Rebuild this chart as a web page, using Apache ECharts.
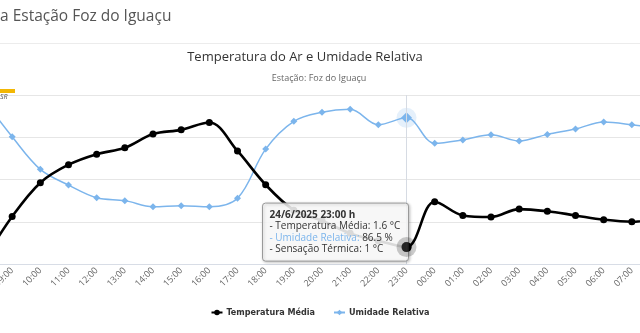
<!DOCTYPE html>
<html>
<head>
<meta charset="utf-8">
<script src="https://cdn.jsdelivr.net/npm/echarts@6/dist/echarts.min.js"></script>
<style>
html,body{margin:0;padding:0;background:#fff;}
#c{width:640px;height:333px;}
</style>
</head>
<body>
<div id="c"></div>
<script>
// Hours (category axis); first and last points lie just outside the visible crop
const hours = ['08:00','09:00','10:00','11:00','12:00','13:00','14:00','15:00','16:00','17:00','18:00','19:00','20:00','21:00','22:00','23:00','00:00','01:00','02:00','03:00','04:00','05:00','06:00','07:00','08:00'];
// Temperatura Média (°C)
const tempMedia = [0.4, 4.5, 7.7, 9.4, 10.4, 11.0, 12.3, 12.7, 13.4, 10.7, 7.5, 5.1, 4.1, 2.9, 2.2, 1.6, 5.9, 4.6, 4.45, 5.2, 5.0, 4.6, 4.2, 4.0, 4.4];
// Umidade Relativa (%)
const umidade = [97, 75.3, 56.0, 46.7, 39.2, 37.5, 33.9, 34.5, 33.9, 38.9, 68.0, 84.4, 89.8, 91.5, 82.4, 86.5, 71.4, 73.4, 76.5, 72.8, 76.7, 79.9, 84.0, 82.4, 80];
// Tooltip content for the hovered hour
const tipIndex = 15;
const tipDate = '24/6/2025';
const sensacaoTermica = [1];

const FONT = '"Open Sans", "DejaVu Sans", sans-serif';
const chart = echarts.init(document.getElementById('c'), null, {renderer: 'canvas'});

const tempPoints = tempMedia.map((v, i) => i === tipIndex ? {value: v, symbolSize: 10} : v);
const umidPoints = umidade.map((v, i) => i === tipIndex ? {value: v, symbolSize: 11} : v);

const option = {
  animation: false,
  backgroundColor: '#fff',
  grid: {left: -16, right: -20, top: 95, bottom: 69, containLabel: false, outerBoundsMode: 'none'},
  legend: {
    bottom: 11, left: 'center',
    itemWidth: 11, itemHeight: 7, itemGap: 18,
    textStyle: {fontFamily: '"DejaVu Sans Condensed", "DejaVu Sans", sans-serif', fontSize: 9, fontWeight: 'bold', color: '#333', padding: [0, 0, 0, -1]},
    data: ['Temperatura Média', 'Umidade Relativa']
  },
  xAxis: {
    type: 'category', data: hours, boundaryGap: false,
    axisLine: {lineStyle: {color: '#d8dde6'}},
    axisTick: {show: false},
    axisLabel: {rotate: 45, fontSize: 9, color: '#666', fontFamily: FONT, margin: 5, interval: 0},
    splitLine: {show: false}
  },
  yAxis: [
    {type: 'value', min: 0, max: 16, interval: 4,
     axisLabel: {show: false}, axisLine: {show: false}, axisTick: {show: false},
     splitLine: {lineStyle: {color: '#e6e6e6'}}},
    {type: 'value', min: 0, max: 100, interval: 25,
     axisLabel: {show: false}, axisLine: {show: false}, axisTick: {show: false},
     splitLine: {show: false}}
  ],
  series: [
    {
      name: 'Temperatura Média', type: 'line', yAxisIndex: 0, data: tempPoints,
      smooth: 0.35, symbol: 'circle', symbolSize: 7, showSymbol: true,
      lineStyle: {color: '#000', width: 2.6}, itemStyle: {color: '#000'}, z: 3,
      markLine: {
        silent: true, symbol: ['none', 'none'], label: {show: false},
        lineStyle: {color: '#d6dbe3', width: 1, type: 'solid'},
        data: [{xAxis: tipIndex}]
      }
    },
    {
      name: 'Umidade Relativa', type: 'line', yAxisIndex: 1, data: umidPoints,
      smooth: 0.35, symbol: 'diamond', symbolSize: 7, showSymbol: true,
      lineStyle: {color: '#7cb5ec', width: 1.5}, itemStyle: {color: '#7cb5ec'}, z: 2
    },
    {
      type: 'scatter', yAxisIndex: 1, symbol: 'circle', symbolSize: 20, silent: true,
      itemStyle: {color: 'rgba(124,181,236,0.25)'}, z: 1,
      data: [[tipIndex, umidade[tipIndex]]]
    },
    {
      type: 'scatter', yAxisIndex: 0, symbol: 'circle', symbolSize: 20, silent: true,
      itemStyle: {color: 'rgba(0,0,0,0.25)'}, z: 60,
      data: [[tipIndex, tempMedia[tipIndex]]]
    },
    {
      type: 'scatter', yAxisIndex: 0, symbol: 'circle', symbolSize: 10, silent: true,
      itemStyle: {color: '#000'}, z: 61,
      data: [[tipIndex, tempMedia[tipIndex]]]
    }
  ]
};
chart.setOption(option);

const p = chart.convertToPixel({xAxisIndex: 0, yAxisIndex: 0}, [tipIndex, tempMedia[tipIndex]]);
const boxW = 146, boxH = 58;
const bx = p[0] - boxW + 2, by = p[1] - 44;

chart.setOption({
  graphic: [
    {type: 'text', left: 0, top: 9, z: 10,
     style: {text: 'a Estação Foz do Iguaçu', fontFamily: FONT, fontSize: 15.5, fill: '#555'}},
    {type: 'rect', shape: {x: 0, y: 43, width: 640, height: 1}, style: {fill: '#ececec'}, z: 10},
    {type: 'text', x: 305, y: 57, z: 10,
     style: {text: 'Temperatura do Ar e Umidade Relativa', fontFamily: FONT, fontSize: 13, fill: '#333', align: 'center', verticalAlign: 'middle'}},
    {type: 'text', x: 319, y: 78.5, z: 10,
     style: {text: 'Estação: Foz do Iguaçu', fontFamily: FONT, fontSize: 9, fill: '#666', align: 'center', verticalAlign: 'middle'}},
    {type: 'rect', shape: {x: 0, y: 89, width: 15, height: 4}, style: {fill: '#f2b705'}, z: 10},
    {type: 'text', x: 0, y: 96.5, z: 10,
     style: {text: 'SR', fontFamily: FONT, fontSize: 7, fontStyle: 'italic', fill: '#555', verticalAlign: 'middle'}},
    {type: 'rect', z: 50,
     shape: {x: bx, y: by, width: boxW, height: boxH, r: 3},
     style: {fill: 'rgba(255,255,255,0.85)', stroke: '#999', lineWidth: 1,
             shadowBlur: 3, shadowColor: 'rgba(0,0,0,0.25)', shadowOffsetX: 1, shadowOffsetY: 1}},
    {type: 'text', z: 51, x: bx + 7, y: by + 6,
     style: {
       text: '{b|' + tipDate + ' ' + hours[tipIndex] + ' h}\n' +
             '{n|- Temperatura Média: ' + tempMedia[tipIndex] + ' °C}\n' +
             '{u|- Umidade Relativa: }{n|' + umidade[tipIndex] + ' %}\n' +
             '{n|- Sensação Térmica: ' + sensacaoTermica[0] + ' °C}',
       fontFamily: FONT, fontSize: 10, lineHeight: 11.5,
       rich: {
         b: {fontFamily: FONT, fontSize: 10, fontWeight: 'bold', fill: '#333', lineHeight: 11.5},
         n: {fontFamily: FONT, fontSize: 10, fill: '#333', lineHeight: 11.5},
         u: {fontFamily: FONT, fontSize: 10, fill: '#7cb5ec', lineHeight: 11.5}
       }
     }}
  ]
});
</script>
</body>
</html>
